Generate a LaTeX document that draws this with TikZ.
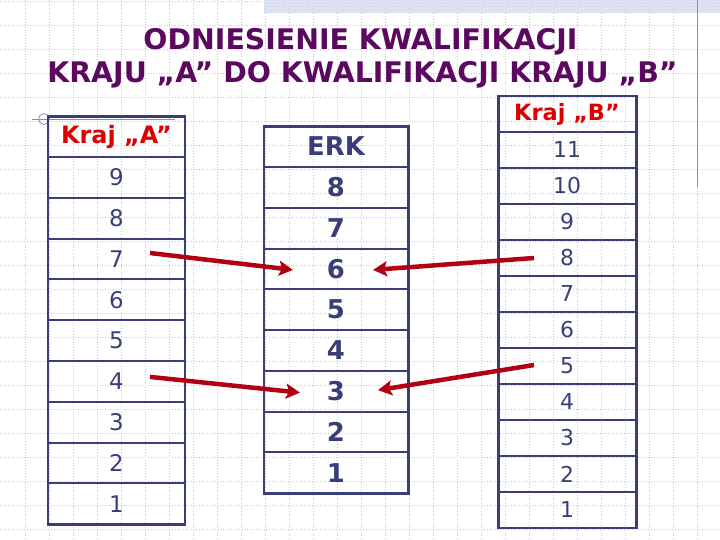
\documentclass[tikz,border=0pt]{standalone}
\usepackage{fontspec}
\setmainfont{DejaVu Sans}
\usetikzlibrary{positioning}
\usetikzlibrary{arrows.meta}
\usetikzlibrary{calc}
\usetikzlibrary{patterns}
\definecolor{tableColor}{RGB}{58,62,120}
\definecolor{headColor}{RGB}{222,0,0}
\definecolor{arrowColor}{RGB}{178,0,18}
\definecolor{titleColor}{RGB}{92,8,96}
\definecolor{gridColor}{RGB}{200,200,214}
\definecolor{bandColor}{RGB}{190,200,232}
\definecolor{decoColor}{RGB}{130,145,195}

\begin{document}
\begin{tikzpicture}[x=1bp,y=-1bp]

  \tikzstyle{gridLine} = [gridColor, dotted, line width=0.7pt];
  \tikzstyle{titleText} = [anchor=base, inner sep=0pt, text=titleColor, font=\fontsize{28.5}{33}\selectfont\bfseries];
  \tikzstyle{cell} = [draw=tableColor, line width=2pt, outer sep=0pt, inner sep=0pt, text=tableColor];
  \tikzstyle{cellA} = [cell, minimum width=137bp, minimum height=40.8bp, font=\fontsize{23}{23}\selectfont];
  \tikzstyle{cellE} = [cell, minimum width=144bp, minimum height=40.75bp, font=\fontsize{26}{26}\selectfont\bfseries];
  \tikzstyle{cellB} = [cell, minimum width=138bp, minimum height=36bp, font=\fontsize{22}{22}\selectfont];
  \tikzstyle{headCell} = [text=headColor, font=\fontsize{24}{24}\selectfont\bfseries];
  \tikzstyle{frame} = [draw=tableColor, line width=3pt];
  \tikzstyle{mapArrow} = [arrowColor, line width=4.5pt, -{Stealth[length=14bp,width=15bp,inset=3bp]}];

  \useasboundingbox (0,0) rectangle (720,540);

  % background grid
  \foreach \k in {1,...,29}
    \draw[gridLine] (24*\k+1,0) -- (24*\k+1,540);
  \foreach \k in {0,...,22}
    \draw[gridLine] (0,24*\k+1) -- (720,24*\k+1);
  \fill[bandColor!45] (264,0) rectangle (720,13);
  \fill[pattern=crosshatch dots, pattern color=bandColor] (264,0) rectangle (720,13);
  \draw[decoColor, line width=1pt] (697,0) -- (697,187);
  \draw[decoColor, line width=0.8pt] (32,119) -- (175,119);
  \draw[decoColor, line width=0.8pt] (44,119) circle (5.5);

  % title
  \node[titleText] (title1) at (360.5,50) {ODNIESIENIE KWALIFIKACJI};
  \node[titleText] (title2) at (362.5,83) {KRAJU „A” DO KWALIFIKACJI KRAJU „B”};

  % kraj A
  \node[cellA, headCell] (headA) at (116.5,136.5) {Kraj „A”};
  \foreach \n in {9,...,1}
    \node[cellA] (a\n) at (116.5,{157+40.8*(9-\n)+20.4}) {\n};
  \draw[frame] (headA.north west) rectangle (a1.south east);

  % ERK
  \node[cellE] (headE) at (336,146.5) {ERK};
  \foreach \n in {8,...,1}
    \node[cellE] (e\n) at (336,{167+40.75*(8-\n)+20.4}) {\n};
  \draw[frame] (headE.north west) rectangle (e1.south east);

  % kraj B
  \node[cellB, headCell, font=\fontsize{22.5}{22.5}\selectfont\bfseries] (headB) at (567,114) {Kraj „B”};
  \foreach \n in {11,...,1}
    \node[cellB] (b\n) at (567,{132+36*(11-\n)+18}) {\n};
  \draw[frame] (headB.north west) rectangle (b1.south east);

  % arrows
  \draw[mapArrow] ($(a7.center)+(33.5,-6)$) -- ($(e6.center)+(-43,1)$);
  \draw[mapArrow] ($(a4.center)+(33.5,-4.5)$) -- ($(e3.center)+(-36,1.5)$);
  \draw[mapArrow] ($(b8.center)+(-33,0)$) -- ($(e6.center)+(37,1)$);
  \draw[mapArrow] ($(b5.center)+(-33,-1)$) -- ($(e3.center)+(42,-1)$);

\end{tikzpicture}
\end{document}
